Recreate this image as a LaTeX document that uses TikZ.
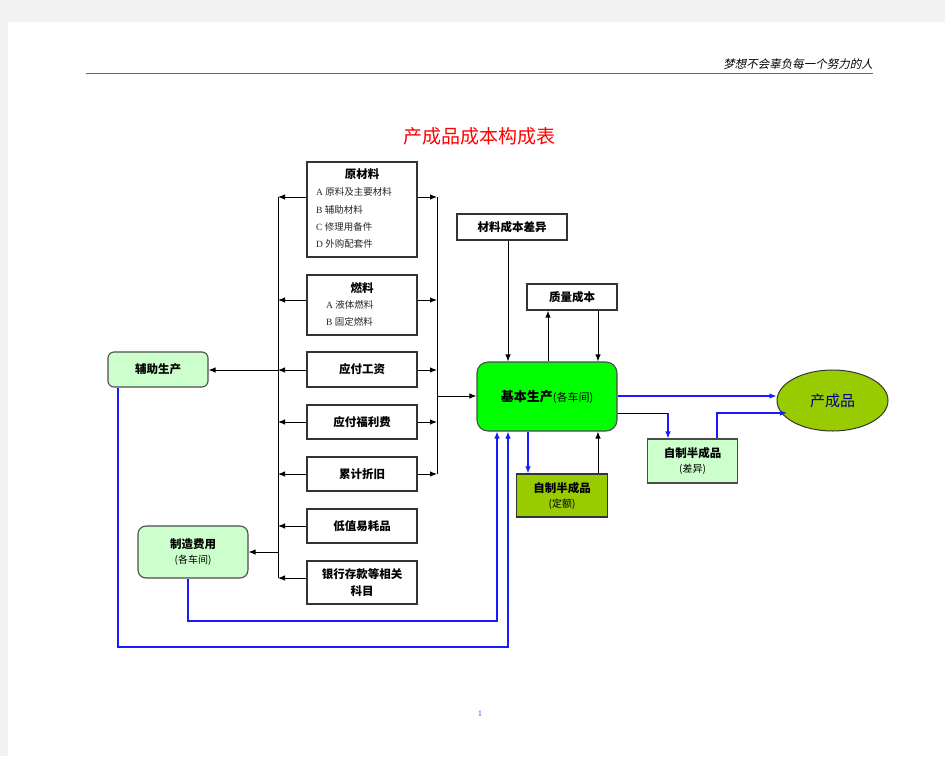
\documentclass[tikz,border=0pt]{standalone}
\usepackage{fontspec}
\setmainfont{Liberation Serif}
\newfontfamily\cjk{Noto Sans CJK SC}
\newfontfamily\cjkit[FakeSlant=0.2]{Noto Sans CJK SC}
\newcommand\subtxt{\cjk\mdseries\fontsize{10}{12}\selectfont}
\usetikzlibrary{arrows.meta,shapes.geometric}
\definecolor{lgreen}{HTML}{CCFFCC}
\definecolor{bgreen}{HTML}{00FF00}
\definecolor{olive}{HTML}{99CC00}
\definecolor{lblue}{HTML}{1A1AFF}
\definecolor{navy}{HTML}{000080}
\begin{document}
\begin{tikzpicture}[x=1pt,y=-1pt,
  bx/.style={draw=black!80, line width=1.3pt, fill=white, inner sep=0pt, align=center,
    font=\cjk\bfseries\fontsize{11.5}{17}\selectfont},
  rbx/.style={bx, draw=black!70, line width=1.1pt, rounded corners=7pt},
  conn/.style={line width=1pt, draw=black},
  arr/.style={conn, -{Latex[length=7pt,width=5.5pt]}},
  bconn/.style={line width=1.1pt, draw=lblue},
  barr/.style={bconn, -{Latex[length=7pt,width=5.5pt]}},
  lab/.style={font=\cjk\bfseries\fontsize{11.5}{13}\selectfont},
  item/.style={anchor=west, text=black!85, inner sep=0pt, font=\fontsize{9.5}{10}\selectfont}]
\fill[black!5] (0,0) rectangle (945,756);
\fill[white] (8,22) rectangle (945,756);
\useasboundingbox (0,0) rectangle (945,756);

% header
\coordinate (hl) at (86,73);
\coordinate (hr) at (873,73);
\draw[black!60, line width=1pt] (hl) -- (hr);
\node[anchor=base east, inner sep=0pt, font=\cjkit\fontsize{11.5}{12}\selectfont] (hdr) at (873,68) {梦想不会辜负每一个努力的人};
\node[text=red, font=\cjk\fontsize{19}{21}\selectfont] (title) at (479,136) {产成品成本构成表};

% middle column boxes
\node[bx, minimum width=110, minimum height=95] (ycl) at (362,209.5) {};
\node[lab] (yclt) at (362,174) {原材料};
\node[item] (ycla) at (316,192) {A {\cjk 原料及主要材料}};
\node[item] (yclb) at (316,210) {B {\cjk 辅助材料}};
\node[item] (yclc) at (316,227) {C {\cjk 修理用备件}};
\node[item] (ycld) at (316,244) {D {\cjk 外购配套件}};

\node[bx, minimum width=110, minimum height=60] (rl) at (362,305) {};
\node[lab] (rlt) at (362,288) {燃料};
\node[item] (rla) at (326,305) {A {\cjk 液体燃料}};
\node[item] (rlb) at (326,322) {B {\cjk 固定燃料}};

\node[bx, minimum width=110, minimum height=35] (gz) at (362,369.5) {应付工资};
\node[bx, minimum width=110, minimum height=34] (flf) at (362,422) {应付福利费};
\node[bx, minimum width=110, minimum height=34] (zj) at (362,474) {累计折旧};
\node[bx, minimum width=110, minimum height=34] (dz) at (362,526) {低值易耗品};
\node[bx, minimum width=110, minimum height=43] (yh) at (362,582.5) {银行存款等相关\\科目};

% left side
\node[rbx, fill=lgreen, minimum width=100, minimum height=35, rounded corners=6pt] (fz) at (158,369.5) {辅助生产};
\node[rbx, fill=lgreen, minimum width=110, minimum height=52, rounded corners=8pt] (zz) at (193,552) {制造费用\\[-2pt]{\subtxt (各车间)}};

% right side
\node[bx, minimum width=110, minimum height=26] (clcb) at (512,227) {材料成本差异};
\node[bx, minimum width=90, minimum height=26] (zlcb) at (572,297) {质量成本};
\node[rbx, fill=bgreen, minimum width=140, minimum height=69, rounded corners=11pt,
  font=\cjk\bfseries\fontsize{13}{15}\selectfont] (jb) at (547,396.5) {基本生产{\mdseries\fontsize{11}{13}\selectfont(各车间)}};
\node[bx, fill=olive, minimum width=91, minimum height=43] (bd) at (562,495.5) {自制半成品\\[-2pt]{\subtxt(定额)}};
\node[bx, draw=black!70, line width=1.1pt, fill=lgreen, minimum width=90, minimum height=44] (bc) at (692.5,461) {自制半成品\\[-2pt]{\subtxt(差异)}};
\node[ellipse, draw=black!80, line width=1pt, fill=olive, minimum width=111, minimum height=61, inner sep=0pt,
  text=navy, font=\cjk\fontsize{15}{17}\selectfont] (cp) at (832.5,400.5) {产成品};

\node[text=blue!70, font=\fontsize{8.5}{9}\selectfont] (pg) at (480,714) {1};

% buses
\coordinate (lb1) at (278,197);
\coordinate (lb2) at (278,300);
\coordinate (lb3) at (278,370);
\coordinate (lb4) at (278,422);
\coordinate (lb5) at (278,474);
\coordinate (lb6) at (278,526);
\coordinate (lb7) at (278,578);
\coordinate (lbz) at (278,552);
\coordinate (rb1) at (437,197);
\coordinate (rb2) at (437,300);
\coordinate (rb3) at (437,370);
\coordinate (rb4) at (437,422);
\coordinate (rb5) at (437,474);
\coordinate (rbj) at (437,396);

\draw[conn] (lb1) -- (lb7);
\draw[conn] (rb1) -- (rb5);
\draw[arr] (ycl.west |- lb1) -- (lb1);
\draw[arr] (rl.west |- lb2) -- (lb2);
\draw[arr] (gz.west |- lb3) -- (lb3);
\draw[arr] (flf.west |- lb4) -- (lb4);
\draw[arr] (zj.west |- lb5) -- (lb5);
\draw[arr] (dz.west |- lb6) -- (lb6);
\draw[arr] (yh.west |- lb7) -- (lb7);
\draw[arr] (ycl.east |- rb1) -- (rb1);
\draw[arr] (rl.east |- rb2) -- (rb2);
\draw[arr] (gz.east |- rb3) -- (rb3);
\draw[arr] (flf.east |- rb4) -- (rb4);
\draw[arr] (zj.east |- rb5) -- (rb5);
\draw[arr] (rbj) -- (jb.west |- rbj);
\draw[arr] (lb3) -- (fz.east |- lb3);
\draw[arr] (lbz) -- (zz.east |- lbz);

% top of base production
\draw[arr] ([xshift=-4pt]clcb.south) -- ([xshift=-4pt]clcb.south |- jb.north);
\draw[arr] ([xshift=-24pt]zlcb.south |- jb.north) -- ([xshift=-24pt]zlcb.south);
\draw[arr] ([xshift=26pt]zlcb.south) -- ([xshift=26pt]zlcb.south |- jb.north);

% outputs
\coordinate (k1) at (668,413);
\coordinate (k2) at (787,413);
\draw[barr] (jb.east |- rbj) -- (cp.west |- rbj);
\draw[conn] (jb.east |- k1) -- (k1);
\draw[barr] (k1) -- (k1 |- bc.north);
\draw[barr] ([xshift=24.5pt]bc.north) |- (k2);
\draw[barr] ([xshift=-19pt]jb.south) -- ([xshift=-19pt]jb.south |- bd.north);
\draw[arr] ([xshift=36pt]bd.north) -- ([xshift=36pt]bd.north |- jb.south);

% blue returns
\coordinate (m1) at (497,621);
\coordinate (m2) at (508,647);
\draw[barr] ([xshift=-5pt]zz.south) |- (m1) -- (m1 |- jb.south);
\draw[barr] ([xshift=-40pt]fz.south) |- (m2) -- (m2 |- jb.south);
\end{tikzpicture}
\end{document}
